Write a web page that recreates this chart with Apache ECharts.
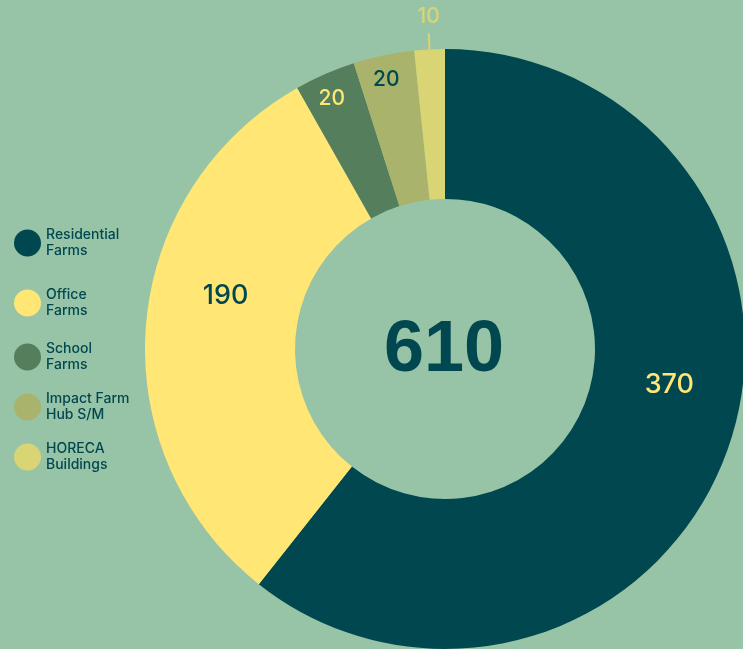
<!DOCTYPE html>
<html>
<head>
<meta charset="utf-8">
<script src="https://cdn.jsdelivr.net/npm/echarts@6/dist/echarts.min.js"></script>
<style>
html,body{margin:0;padding:0;background:#97C4A6;}
#chart{width:743px;height:649px;}
</style>
</head>
<body>
<div id="chart"></div>
<script>
// ---- data ----
const categories = ['Residential Farms', 'Office Farms', 'School Farms', 'Impact Farm Hub S/M', 'HORECA Buildings'];
const legendLabels = ['Residential\nFarms', 'Office\nFarms', 'School\nFarms', 'Impact Farm\nHub S/M', 'HORECA\nBuildings'];
const values = [370, 190, 20, 20, 10];

// ---- styles ----
const BG = '#97C4A6';
const TEAL = '#004750';
const colors = ['#004750', '#FFE675', '#557E5C', '#A9B36B', '#D9D574'];
const labelColors = ['#FFE675', '#004750', '#FFE675', '#004750', '#D9D574'];
const labelSizes = [27, 27, 21, 21, 21];
const labelShift = [[9, -39], [8, -36], [-22, -41], [-12, -46], [11, -17]];
const legendTops = [227, 287, 341, 391, 441];

const total = values.reduce((a, b) => a + b, 0);
const FONT = 'Inter, "Noto Sans", sans-serif';

const chart = echarts.init(document.getElementById('chart'));

const legends = categories.map((c, i) => ({
  data: [c],
  orient: 'vertical',
  left: 14,
  top: legendTops[i],
  padding: 0,
  icon: 'circle',
  itemWidth: 27,
  itemHeight: 27,
  selectedMode: false,
  formatter: () => legendLabels[i],
  textStyle: { color: TEAL, fontSize: 14, fontWeight: 500, lineHeight: 16, fontFamily: FONT }
}));

chart.setOption({
  backgroundColor: BG,
  animation: false,
  color: colors,
  title: {
    text: String(total),
    left: 444,
    top: 351,
    padding: 0,
    textAlign: 'center',
    textVerticalAlign: 'middle',
    textStyle: { color: TEAL, fontSize: 72, fontWeight: 'bold', fontFamily: '"Liberation Sans", Arial, sans-serif' }
  },
  legend: legends,
  series: [{
    type: 'pie',
    center: [445, 349],
    radius: [150, 300],
    startAngle: 90,
    clockwise: true,
    avoidLabelOverlap: false,
    label: {
      show: true,
      position: 'outside',
      formatter: '{c}',
      fontFamily: FONT,
      fontWeight: 500,
      distanceToLabelLine: 0
    },
    labelLine: { show: true, length: 16, length2: 0, lineStyle: { width: 2, color: '#D9D574' } },
    labelLayout: (p) => ({ dx: labelShift[p.dataIndex][0], dy: labelShift[p.dataIndex][1] }),
    data: categories.map((c, i) => ({
      name: c,
      value: values[i],
      label: {
        position: i < 4 ? 'inside' : 'outside',
        color: labelColors[i],
        fontSize: labelSizes[i]
      },
      labelLine: { show: i === 4 }
    }))
  }]
});
</script>
</body>
</html>
